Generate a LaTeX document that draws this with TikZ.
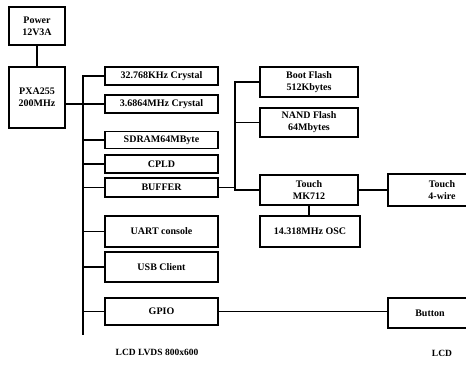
\documentclass[tikz,border=0pt]{standalone}
\usepackage{fontspec}
\setmainfont{Liberation Serif}
\begin{document}
\begin{tikzpicture}[x=1pt,y=-1pt,
  box/.style={draw, line width=1.6pt, inner sep=0pt, align=center, font=\bfseries\fontsize{10}{12}\selectfont},
  wire/.style={line width=1.6pt},
  lbl/.style={inner sep=0pt, font=\bfseries\fontsize{9.5}{11}\selectfont}]
\useasboundingbox (0,0) rectangle (466,365);
\clip (0,0) rectangle (466,365);
% left column
\node[box, minimum width=56pt, minimum height=38pt] (power) at (37,26) {Power\\12V3A};
\node[box, minimum width=56pt, minimum height=61pt] (pxa) at (37,97.5) {PXA255\\200MHz};
% peripheral column
\node[box, minimum width=113pt, minimum height=18pt] (c1) at (161.5,76) {32.768KHz Crystal};
\node[box, minimum width=113pt, minimum height=18pt] (c2) at (161.5,104) {3.6864MHz Crystal};
\node[box, minimum width=113pt, minimum height=17pt] (sdram) at (161.5,140) {SDRAM64MByte};
\node[box, minimum width=113pt, minimum height=18pt] (cpld) at (161.5,164) {CPLD};
\node[box, minimum width=113pt, minimum height=19pt] (buffer) at (161.5,187.5) {BUFFER};
\node[box, minimum width=113pt, minimum height=31pt] (uart) at (161.5,231.5) {UART console};
\node[box, minimum width=113pt, minimum height=30pt] (usb) at (161.5,267) {USB Client};
\node[box, minimum width=113pt, minimum height=27pt] (gpio) at (161.5,311.5) {GPIO};
% memory / touch column
\node[box, minimum width=98pt, minimum height=30pt] (boot) at (309,82) {Boot Flash\\512Kbytes};
\node[box, minimum width=98pt, minimum height=29pt] (nand) at (309,122.5) {NAND Flash\\64Mbytes};
\node[box, minimum width=98pt, minimum height=30pt] (touch) at (309,190) {Touch\\MK712};
\node[box, minimum width=100pt, minimum height=31pt] (osc) at (310,231.5) {14.318MHz OSC};
% far right
\node[box, minimum width=108pt, minimum height=32pt] (t4) at (442,190) {Touch\\4-wire};
\node[box, minimum width=84pt, minimum height=30pt] (button) at (430,313) {Button};
% labels
\node[lbl] (lcd1) at (157,352) {LCD LVDS 800x600};
\node[lbl] (lcd2) at (442,353) {LCD};
% buses
\coordinate (b1top) at (83,76);
\coordinate (b1bot) at (83,335);
\coordinate (b2top) at (235,82);
\draw[wire] (power.south) -- (pxa.north);
\draw[wire] (c1.west) -- (b1top) -- (b1bot);
\draw[wire] (pxa.east |- c2.west) -- (c2.west);
\foreach \n in {sdram,cpld,buffer,uart,usb,gpio}
  \draw[wire] (\n.west) -- (\n.west -| b1top);
\draw[wire] (boot.west) -- (b2top) |- (touch.west);
\draw[wire] (nand.west) -- (nand.west -| b2top);
\draw[wire] (buffer.east) -- (buffer.east -| b2top);
\draw[wire] (touch.east) -- (t4.west);
\draw[wire] (touch.south) -- (touch.south |- osc.north);
\draw[wire] (gpio.east) -- (gpio.east -| button.west);
\end{tikzpicture}
\end{document}
